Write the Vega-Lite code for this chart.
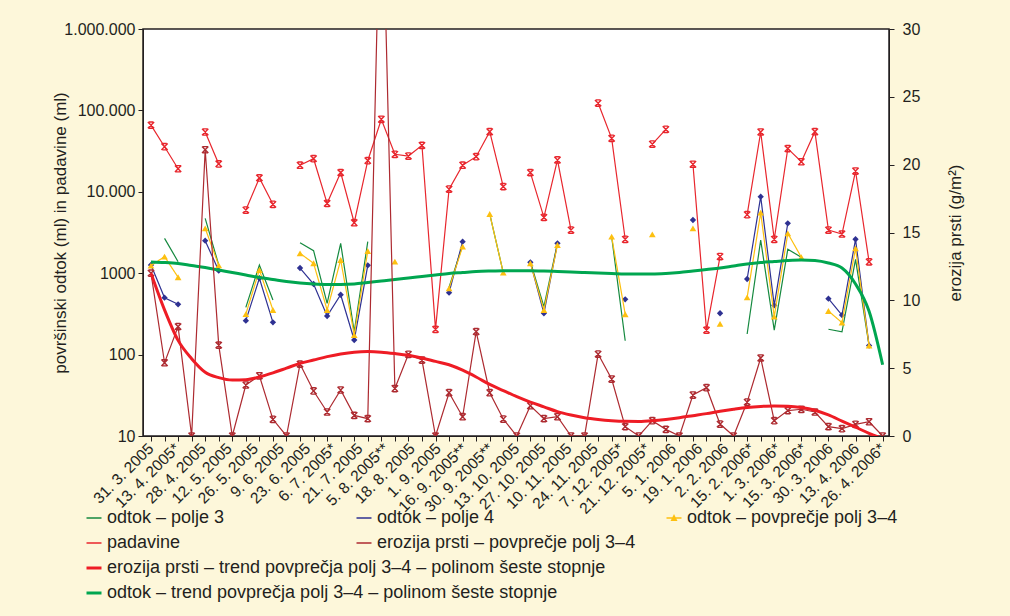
{
  "$schema": "https://vega.github.io/schema/vega-lite/v6.json",
  "width": 746,
  "height": 407,
  "autosize": {"type": "none"},
  "padding": {"left": 143, "top": 29, "right": 121, "bottom": 180},
  "background": "#fdf7da",
  "config": {
    "font": "Liberation Sans",
    "view": {"fill": "#ffffff", "stroke": "#231f20", "strokeWidth": 1.5},
    "axis": {"labelColor": "#231f20", "tickColor": "#231f20", "domainColor": "#231f20", "titleColor": "#231f20", "titleFontWeight": "normal", "grid": false, "labelFont": "Liberation Sans", "titleFont": "Liberation Sans"},
    "legend": {"labelFontSize": 18, "labelColor": "#231f20", "labelFont": "Liberation Sans", "padding": 0, "labelLimit": 800}
  },
  "data": {"values": [
    {"i":0,"pad":66000,"ero":12.0,"p3":null,"p4":1260,"avg":1240,"tero":12.0,"todt":1373},
    {"i":1,"pad":35800,"ero":5.4,"p3":2680,"p4":500,"avg":1600,"tero":9.3,"todt":1353},
    {"i":2,"pad":19200,"ero":8.06,"p3":1385,"p4":415,"avg":891,"tero":7.05,"todt":1316},
    {"i":3,"pad":null,"ero":0,"p3":null,"p4":null,"avg":null,"tero":5.7,"todt":1243},
    {"i":4,"pad":54300,"ero":21.1,"p3":4720,"p4":2510,"avg":3560,"tero":4.7,"todt":1175},
    {"i":5,"pad":22000,"ero":6.7,"p3":1260,"p4":1073,"avg":1250,"tero":4.3,"todt":1095},
    {"i":6,"pad":null,"ero":0,"p3":null,"p4":null,"avg":null,"tero":4.12,"todt":1020},
    {"i":7,"pad":5970,"ero":3.76,"p3":381,"p4":261,"avg":315,"tero":4.15,"todt":951},
    {"i":8,"pad":14800,"ero":4.44,"p3":1260,"p4":866,"avg":1095,"tero":4.35,"todt":885},
    {"i":9,"pad":7020,"ero":1.23,"p3":469,"p4":249,"avg":353,"tero":4.65,"todt":837},
    {"i":10,"pad":null,"ero":0,"p3":null,"p4":null,"avg":null,"tero":5.0,"todt":791},
    {"i":11,"pad":21200,"ero":5.3,"p3":2370,"p4":1158,"avg":1755,"tero":5.35,"todt":758},
    {"i":12,"pad":25500,"ero":3.32,"p3":1890,"p4":737,"avg":1324,"tero":5.6,"todt":737},
    {"i":13,"pad":7220,"ero":1.77,"p3":427,"p4":298,"avg":353,"tero":5.85,"todt":727},
    {"i":14,"pad":17200,"ero":3.39,"p3":2330,"p4":544,"avg":1453,"tero":6.05,"todt":727},
    {"i":15,"pad":4170,"ero":1.52,"p3":191,"p4":151,"avg":174,"tero":6.18,"todt":737},
    {"i":16,"pad":24100,"ero":1.28,"p3":2440,"p4":1250,"avg":1875,"tero":6.22,"todt":769},
    {"i":17,"pad":77800,"ero":44,"p3":null,"p4":null,"avg":null,"tero":6.18,"todt":802},
    {"i":18,"pad":28900,"ero":3.5,"p3":null,"p4":null,"avg":1385,"tero":6.08,"todt":837},
    {"i":19,"pad":27500,"ero":6.02,"p3":null,"p4":null,"avg":null,"tero":5.95,"todt":873},
    {"i":20,"pad":37200,"ero":5.6,"p3":null,"p4":null,"avg":null,"tero":5.75,"todt":911},
    {"i":21,"pad":204,"ero":0,"p3":null,"p4":null,"avg":null,"tero":5.5,"todt":951},
    {"i":22,"pad":10800,"ero":3.19,"p3":671,"p4":576,"avg":652,"tero":5.25,"todt":992},
    {"i":23,"pad":21200,"ero":1.42,"p3":2220,"p4":2440,"avg":2120,"tero":4.85,"todt":1020},
    {"i":24,"pad":27000,"ero":7.69,"p3":null,"p4":null,"avg":null,"tero":4.35,"todt":1049},
    {"i":25,"pad":54700,"ero":3.19,"p3":5340,"p4":null,"avg":5340,"tero":3.8,"todt":1064},
    {"i":26,"pad":11600,"ero":1.25,"p3":1014,"p4":null,"avg":1014,"tero":3.35,"todt":1073},
    {"i":27,"pad":null,"ero":0,"p3":null,"p4":null,"avg":null,"tero":2.9,"todt":1073},
    {"i":28,"pad":17200,"ero":2.23,"p3":1385,"p4":1361,"avg":1324,"tero":2.5,"todt":1073},
    {"i":29,"pad":4860,"ero":1.28,"p3":388,"p4":322,"avg":353,"tero":2.15,"todt":1064},
    {"i":30,"pad":24600,"ero":1.42,"p3":2330,"p4":2330,"avg":2220,"tero":1.8,"todt":1049},
    {"i":31,"pad":3390,"ero":0,"p3":null,"p4":null,"avg":null,"tero":1.55,"todt":1034},
    {"i":32,"pad":null,"ero":0,"p3":null,"p4":null,"avg":null,"tero":1.35,"todt":1020},
    {"i":33,"pad":123000,"ero":6.04,"p3":null,"p4":null,"avg":null,"tero":1.22,"todt":1006},
    {"i":34,"pad":45400,"ero":4.2,"p3":2810,"p4":null,"avg":2810,"tero":1.13,"todt":992},
    {"i":35,"pad":2610,"ero":0.69,"p3":148,"p4":478,"avg":313,"tero":1.08,"todt":978},
    {"i":36,"pad":null,"ero":0,"p3":null,"p4":null,"avg":null,"tero":1.07,"todt":978},
    {"i":37,"pad":38600,"ero":1.13,"p3":null,"p4":null,"avg":3000,"tero":1.12,"todt":978},
    {"i":38,"pad":58600,"ero":0.49,"p3":null,"p4":null,"avg":null,"tero":1.22,"todt":992},
    {"i":39,"pad":null,"ero":0,"p3":null,"p4":null,"avg":null,"tero":1.35,"todt":1020},
    {"i":40,"pad":21800,"ero":3.02,"p3":null,"p4":4500,"avg":3560,"tero":1.5,"todt":1064},
    {"i":41,"pad":200,"ero":3.56,"p3":null,"p4":null,"avg":null,"tero":1.65,"todt":1110},
    {"i":42,"pad":1600,"ero":0.88,"p3":null,"p4":322,"avg":238,"tero":1.82,"todt":1158},
    {"i":43,"pad":null,"ero":0,"p3":null,"p4":null,"avg":null,"tero":1.97,"todt":1226},
    {"i":44,"pad":5230,"ero":2.5,"p3":179,"p4":849,"avg":506,"tero":2.1,"todt":1297},
    {"i":45,"pad":54300,"ero":5.75,"p3":2560,"p4":8710,"avg":5540,"tero":2.18,"todt":1353},
    {"i":46,"pad":2610,"ero":1.13,"p3":200,"p4":403,"avg":292,"tero":2.22,"todt":1392},
    {"i":47,"pad":33900,"ero":1.87,"p3":1966,"p4":4100,"avg":3090,"tero":2.2,"todt":1432},
    {"i":48,"pad":23400,"ero":1.97,"p3":1570,"p4":null,"avg":1570,"tero":2.1,"todt":1453},
    {"i":49,"pad":54700,"ero":1.77,"p3":null,"p4":null,"avg":null,"tero":1.9,"todt":1432},
    {"i":50,"pad":3390,"ero":0.69,"p3":205,"p4":486,"avg":343,"tero":1.55,"todt":1334},
    {"i":51,"pad":3030,"ero":0.54,"p3":190,"p4":306,"avg":247,"tero":1.1,"todt":1158},
    {"i":52,"pad":18000,"ero":0.86,"p3":1480,"p4":2610,"avg":2020,"tero":0.65,"todt":737},
    {"i":53,"pad":1380,"ero":1.05,"p3":129,"p4":129,"avg":129,"tero":0.2,"todt":340},
    {"i":54,"pad":null,"ero":0,"p3":null,"p4":null,"avg":null,"tero":-0.2,"todt":75}
  ]},
  "encoding": {
    "x": {"field": "i", "type": "quantitative", "scale": {"domain": [-0.59, 54.47], "nice": false, "zero": false},
      "axis": {"title": null, "labels": false, "tickCount": 55, "tickSize": 5, "domain": true}}
  },
  "layer": [
    {
      "layer": [
        {
          "mark": {"type": "line", "strokeWidth": 1.2},
          "encoding": {
            "y": {"field": "p3", "type": "quantitative", "scale": {"type": "log", "domain": [10, 1000000]},
              "axis": {"orient": "left", "title": "površinski odtok (ml) in padavine (ml)", "values": [10, 100, 1000, 10000, 100000, 1000000], "labelExpr": "datum.value == 1000000 ? '1.000.000' : datum.value == 100000 ? '100.000' : datum.value == 10000 ? '10.000' : format(datum.value, 'd')", "titleFontSize": 17, "labelFontSize": 16, "tickSize": 5, "titlePadding": -6, "labelPadding": 3}},
            "color": {"datum": "odtok – polje 3",
              "scale": {"domain": ["odtok – polje 3", "padavine", "odtok – polje 4", "erozija prsti – povprečje polj 3–4"], "range": ["#15893f", "#e8262d", "#2e3192", "#ad2a30"]},
              "legend": {"orient": "none", "legendX": -58, "legendY": 480, "columns": 2, "title": null, "symbolType": "stroke", "symbolSize": 225, "symbolStrokeWidth": 1.5, "columnPadding": 128, "rowPadding": 7, "gridAlign": "each", "labelFontSize": 18}}
          }
        },
        {
          "mark": {"type": "line", "strokeWidth": 1.2},
          "encoding": {
            "y": {"field": "p4", "type": "quantitative", "axis": {"orient": "left", "title": "površinski odtok (ml) in padavine (ml)", "values": [10, 100, 1000, 10000, 100000, 1000000], "labelExpr": "datum.value == 1000000 ? '1.000.000' : datum.value == 100000 ? '100.000' : datum.value == 10000 ? '10.000' : format(datum.value, 'd')", "titleFontSize": 17, "labelFontSize": 16, "tickSize": 5, "titlePadding": -6, "labelPadding": 3}},
            "color": {"datum": "odtok – polje 4"}
          }
        },
        {
          "mark": {"type": "point", "shape": "diamond", "filled": true, "size": 40, "color": "#2e3192", "opacity": 1},
          "encoding": {"y": {"field": "p4", "type": "quantitative", "axis": {"orient": "left", "title": "površinski odtok (ml) in padavine (ml)", "values": [10, 100, 1000, 10000, 100000, 1000000], "labelExpr": "datum.value == 1000000 ? '1.000.000' : datum.value == 100000 ? '100.000' : datum.value == 10000 ? '10.000' : format(datum.value, 'd')", "titleFontSize": 17, "labelFontSize": 16, "tickSize": 5, "titlePadding": -6, "labelPadding": 3}}}
        },
        {
          "mark": {"type": "line", "strokeWidth": 1.2, "color": "#fdc010"},
          "encoding": {
            "y": {"field": "avg", "type": "quantitative", "axis": {"orient": "left", "title": "površinski odtok (ml) in padavine (ml)", "values": [10, 100, 1000, 10000, 100000, 1000000], "labelExpr": "datum.value == 1000000 ? '1.000.000' : datum.value == 100000 ? '100.000' : datum.value == 10000 ? '10.000' : format(datum.value, 'd')", "titleFontSize": 17, "labelFontSize": 16, "tickSize": 5, "titlePadding": -6, "labelPadding": 3}},
            "strokeDash": {"datum": "odtok – povprečje polj 3–4", "scale": {"range": [[1, 0]]},
              "legend": {"orient": "none", "legendX": 522, "legendY": 480, "title": null, "symbolType": "M-1,0L1,0M-0.3,0.3L0,-0.3L0.3,0.3Z", "symbolSize": 225, "symbolStrokeWidth": 1.5, "symbolStrokeColor": "#fdc010", "symbolFillColor": "#fdc010", "labelFontSize": 18}}
          }
        },
        {
          "mark": {"type": "point", "shape": "triangle-up", "filled": true, "size": 45, "color": "#fdc010", "opacity": 1},
          "encoding": {"y": {"field": "avg", "type": "quantitative", "axis": {"orient": "left", "title": "površinski odtok (ml) in padavine (ml)", "values": [10, 100, 1000, 10000, 100000, 1000000], "labelExpr": "datum.value == 1000000 ? '1.000.000' : datum.value == 100000 ? '100.000' : datum.value == 10000 ? '10.000' : format(datum.value, 'd')", "titleFontSize": 17, "labelFontSize": 16, "tickSize": 5, "titlePadding": -6, "labelPadding": 3}}}
        },
        {
          "mark": {"type": "line", "strokeWidth": 1.2},
          "encoding": {
            "y": {"field": "pad", "type": "quantitative", "axis": {"orient": "left", "title": "površinski odtok (ml) in padavine (ml)", "values": [10, 100, 1000, 10000, 100000, 1000000], "labelExpr": "datum.value == 1000000 ? '1.000.000' : datum.value == 100000 ? '100.000' : datum.value == 10000 ? '10.000' : format(datum.value, 'd')", "titleFontSize": 17, "labelFontSize": 16, "tickSize": 5, "titlePadding": -6, "labelPadding": 3}},
            "color": {"datum": "padavine"}
          }
        },
        {
          "mark": {"type": "point", "shape": "M-1,-1L1,1M1,-1L-1,1M-0.7,-1L0.7,-1M-0.7,1L0.7,1", "filled": false, "size": 40, "strokeWidth": 1.4, "color": "#e8262d", "opacity": 1},
          "encoding": {"y": {"field": "pad", "type": "quantitative", "axis": {"orient": "left", "title": "površinski odtok (ml) in padavine (ml)", "values": [10, 100, 1000, 10000, 100000, 1000000], "labelExpr": "datum.value == 1000000 ? '1.000.000' : datum.value == 100000 ? '100.000' : datum.value == 10000 ? '10.000' : format(datum.value, 'd')", "titleFontSize": 17, "labelFontSize": 16, "tickSize": 5, "titlePadding": -6, "labelPadding": 3}}}
        },
        {
          "mark": {"type": "line", "strokeWidth": 3, "interpolate": "monotone"},
          "encoding": {
            "y": {"field": "todt", "type": "quantitative", "axis": {"orient": "left", "title": "površinski odtok (ml) in padavine (ml)", "values": [10, 100, 1000, 10000, 100000, 1000000], "labelExpr": "datum.value == 1000000 ? '1.000.000' : datum.value == 100000 ? '100.000' : datum.value == 10000 ? '10.000' : format(datum.value, 'd')", "titleFontSize": 17, "labelFontSize": 16, "tickSize": 5, "titlePadding": -6, "labelPadding": 3}},
            "stroke": {"datum": "odtok – trend povprečja polj 3–4 – polinom šeste stopnje",
              "scale": {"domain": ["erozija prsti – trend povprečja polj 3–4 – polinom šeste stopnje", "odtok – trend povprečja polj 3–4 – polinom šeste stopnje"], "range": ["#ee1c25", "#00a650"]},
              "legend": {"orient": "none", "legendX": -58, "legendY": 530, "title": null, "symbolType": "stroke", "symbolSize": 225, "symbolStrokeWidth": 3, "rowPadding": 7, "labelFontSize": 18}}
          }
        },
        {
          "data": {"values": [
            {"lp": 0, "lab": "31. 3. 2005"},
            {"lp": 1.93, "lab": "13. 4. 2005*"},
            {"lp": 3.86, "lab": "28. 4. 2005"},
            {"lp": 5.79, "lab": "12. 5. 2005"},
            {"lp": 7.71, "lab": "26. 5. 2005"},
            {"lp": 9.64, "lab": "9. 6. 2005"},
            {"lp": 11.57, "lab": "23. 6. 2005"},
            {"lp": 13.5, "lab": "6. 7. 2005*"},
            {"lp": 15.43, "lab": "21. 7. 2005"},
            {"lp": 17.36, "lab": "5. 8. 2005**"},
            {"lp": 19.29, "lab": "18. 8. 2005"},
            {"lp": 21.21, "lab": "1. 9. 2005"},
            {"lp": 23.14, "lab": "16. 9. 2005**"},
            {"lp": 25.07, "lab": "30. 9. 2005**"},
            {"lp": 27, "lab": "13. 10. 2005"},
            {"lp": 28.93, "lab": "27. 10. 2005"},
            {"lp": 30.86, "lab": "10. 11. 2005"},
            {"lp": 32.79, "lab": "24. 11. 2005"},
            {"lp": 34.71, "lab": "7. 12. 2005*"},
            {"lp": 36.64, "lab": "21. 12. 2005*"},
            {"lp": 38.57, "lab": "5. 1. 2006"},
            {"lp": 40.5, "lab": "19. 1. 2006"},
            {"lp": 42.43, "lab": "2. 2. 2006"},
            {"lp": 44.36, "lab": "15. 2. 2006*"},
            {"lp": 46.29, "lab": "1. 3. 2006*"},
            {"lp": 48.21, "lab": "15. 3. 2006*"},
            {"lp": 50.14, "lab": "30. 3. 2006"},
            {"lp": 52.07, "lab": "13. 4. 2006"},
            {"lp": 54, "lab": "26. 4. 2006*"}
          ]},
          "mark": {"type": "text", "angle": 315, "align": "right", "baseline": "middle", "fontSize": 15.5, "radius": 10, "theta": 3.1416, "color": "#231f20", "font": "Liberation Sans"},
          "encoding": {
            "x": {"field": "lp", "type": "quantitative"},
            "y": {"datum": 10, "type": "quantitative", "axis": {"orient": "left", "title": "površinski odtok (ml) in padavine (ml)", "values": [10, 100, 1000, 10000, 100000, 1000000], "labelExpr": "datum.value == 1000000 ? '1.000.000' : datum.value == 100000 ? '100.000' : datum.value == 10000 ? '10.000' : format(datum.value, 'd')", "titleFontSize": 17, "labelFontSize": 16, "tickSize": 5, "titlePadding": -6, "labelPadding": 3}},
            "text": {"field": "lab"}
          }
        }
      ]
    },
    {
      "layer": [
        {
          "mark": {"type": "line", "strokeWidth": 1.2, "clip": true},
          "encoding": {
            "y": {"field": "ero", "type": "quantitative", "scale": {"domain": [0, 30], "nice": false},
              "axis": {"orient": "right", "title": "erozija prsti (g/m²)", "values": [0, 5, 10, 15, 20, 25, 30], "titleAngle": 270, "titleFontSize": 17, "labelFontSize": 16, "tickSize": 5, "labelPadding": 8, "titlePadding": 45}},
            "color": {"datum": "erozija prsti – povprečje polj 3–4"}
          }
        },
        {
          "mark": {"type": "point", "shape": "M-1,-1L1,1M1,-1L-1,1M-0.7,-1L0.7,-1M-0.7,1L0.7,1", "filled": false, "size": 40, "strokeWidth": 1.4, "color": "#ad2a30", "opacity": 1, "clip": true},
          "encoding": {"y": {"field": "ero", "type": "quantitative", "axis": {"orient": "right", "title": "erozija prsti (g/m²)", "values": [0, 5, 10, 15, 20, 25, 30], "titleAngle": 270, "titleFontSize": 17, "labelFontSize": 16, "tickSize": 5, "labelPadding": 8, "titlePadding": 45}}}
        },
        {
          "mark": {"type": "line", "strokeWidth": 3, "interpolate": "monotone", "clip": true},
          "encoding": {
            "y": {"field": "tero", "type": "quantitative", "axis": {"orient": "right", "title": "erozija prsti (g/m²)", "values": [0, 5, 10, 15, 20, 25, 30], "titleAngle": 270, "titleFontSize": 17, "labelFontSize": 16, "tickSize": 5, "labelPadding": 8, "titlePadding": 45}},
            "stroke": {"datum": "erozija prsti – trend povprečja polj 3–4 – polinom šeste stopnje"}
          }
        }
      ]
    }
  ],
  "resolve": {"scale": {"y": "independent"}}
}
